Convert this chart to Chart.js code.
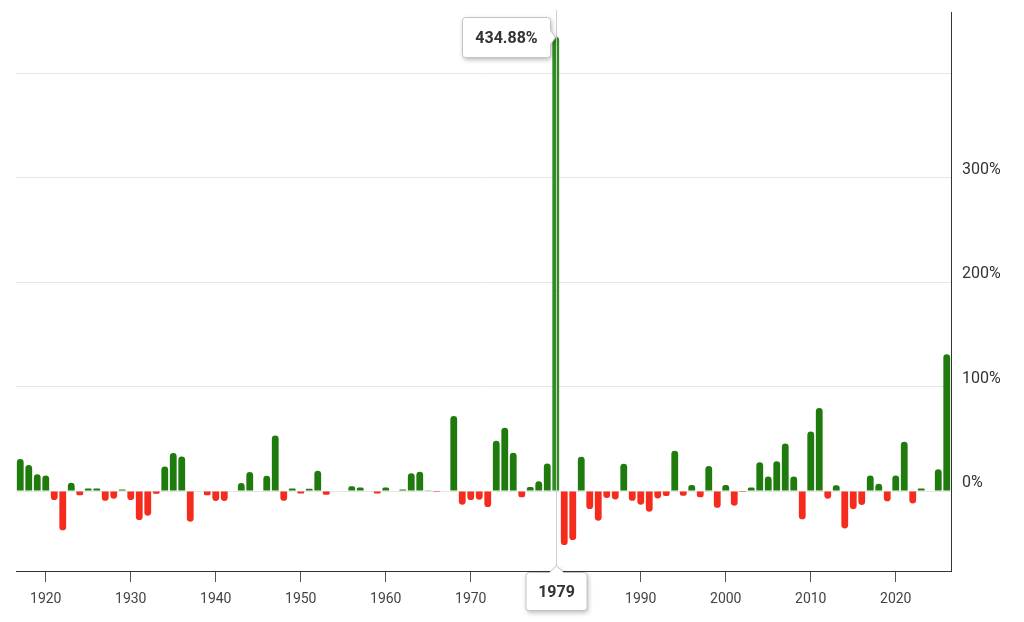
<!DOCTYPE html>
<html>
<head>
<meta charset="utf-8">
<script src="https://cdn.jsdelivr.net/npm/chart.js@4.4.1/dist/chart.umd.min.js"></script>
<style>
  html, body { margin: 0; padding: 0; background: #fff; }
  #wrap { width: 1024px; height: 622px; position: relative; }
</style>
</head>
<body>
<div id="wrap"><canvas id="c" width="1024" height="622"></canvas></div>
<script>
// Annual returns (%)
const years = [
  1916,1917,1918,1919,1920,1921,1922,1923,1924,1925,
  1926,1927,1928,1929,1930,1931,1932,1933,1934,1935,
  1936,1937,1938,1939,1940,1941,1942,1943,1944,1945,
  1946,1947,1948,1949,1950,1951,1952,1953,1954,1955,
  1956,1957,1958,1959,1960,1961,1962,1963,1964,1965,
  1966,1967,1968,1969,1970,1971,1972,1973,1974,1975,
  1976,1977,1978,1979,1980,1981,1982,1983,1984,1985,
  1986,1987,1988,1989,1990,1991,1992,1993,1994,1995,
  1996,1997,1998,1999,2000,2001,2002,2003,2004,2005,
  2006,2007,2008,2009,2010,2011,2012,2013,2014,2015,
  2016,2017,2018,2019,2020,2021,2022,2023,2024,2025
];
const returnsPct = [
  30.6, 24.9, 16.0, 15.0, -8.6, -37.6, 8.0, -4.0, 2.5, 2.5,
  -9.3, -7.3, 1.5, -8.6, -27.8, -23.6, -2.5, 23.6, 36.4, 33.2,
  -29.3, 0, -4.0, -9.5, -9.5, 0, 7.7, 18.2, 0, 14.7,
  53.3, -9.3, 2.5, -2.3, 2.2, 19.4, -3.5, 0, 0, 4.5,
  3.5, 0, -2.3, 3.5, 0, 1.5, 17.0, 18.5, 0.8, -0.8,
  0, 71.8, -13.0, -8.6, -8.3, -15.3, 48.1, 60.6, 36.7, -6.0,
  3.8, 9.3, 26.5, 434.88, -51.7, -46.9, 32.8, -17.2, -28.4, -6.7,
  -8.0, 26.1, -9.3, -13.1, -19.8, -7.0, -4.8, 38.6, -4.5, 5.7,
  -6.0, 23.9, -16.0, 5.7, -14.0, -1.0, 3.5, 27.5, 14.0, 28.6,
  45.5, 14.0, -27.0, 57.0, 79.5, -7.3, 5.5, -35.8, -17.4, -13.3,
  15.0, 7.0, -9.8, 15.0, 47.3, -11.8, 2.5, -0.5, 20.9, 131.0
];
const yTicks = [0, 100, 200, 300, 400];
const yTickLabelsShown = ['0%', '100%', '200%', '300%', ''];
const xTickYears = [1920, 1930, 1940, 1950, 1960, 1970, 1980, 1990, 2000, 2010, 2020];
const highlightYear = 1979;

const GREEN = '#1f7b0e';
const GREEN_HOVER = '#2f8d22';
const RED = '#f42b1d';

// each bar is placed at the end of its year (year + 1)
const points = years.map((y, i) => ({ x: y + 1, y: returnsPct[i] }));
const hiIndex = years.indexOf(highlightYear);

const hoverPlugin = {
  id: 'hoverMarker',
  afterDatasetsDraw(chart) {
    const ctx = chart.ctx;
    const el = chart.getDatasetMeta(0).data[hiIndex];
    const ca = chart.chartArea;
    const x = Math.round(el.x) + 0.5;
    ctx.save();
    // crosshair
    ctx.strokeStyle = '#cfcfcf';
    ctx.lineWidth = 1;
    ctx.beginPath();
    ctx.moveTo(x, ca.top - 2);
    ctx.lineTo(x, ca.bottom);
    ctx.stroke();

    const drawBox = (path) => {
      ctx.save();
      ctx.shadowColor = 'rgba(0,0,0,0.3)';
      ctx.shadowBlur = 5;
      ctx.shadowOffsetX = 1;
      ctx.shadowOffsetY = 2;
      ctx.fillStyle = '#fff';
      path();
      ctx.fill();
      ctx.restore();
      ctx.strokeStyle = '#c4c4c4';
      ctx.lineWidth = 1;
      path();
      ctx.stroke();
    };

    // top value tooltip (caret on the right)
    ctx.font = 'bold 16px Roboto, "Noto Sans", sans-serif';
    const valText = returnsPct[hiIndex].toFixed(2) + '%';
    const tw = ctx.measureText(valText).width;
    const bw = Math.round(tw + 26), bh = 40;
    const cy = Math.round(el.y) + 0.5;
    const bx1 = x - 6, bx0 = bx1 - bw;
    const by0 = cy - bh / 2, by1 = cy + bh / 2;
    const r = 3;
    drawBox(() => {
      ctx.beginPath();
      ctx.moveTo(bx0 + r, by0);
      ctx.lineTo(bx1 - r, by0);
      ctx.quadraticCurveTo(bx1, by0, bx1, by0 + r);
      ctx.lineTo(bx1, cy - 7);
      ctx.lineTo(x - 1, cy);
      ctx.lineTo(bx1, cy + 7);
      ctx.lineTo(bx1, by1 - r);
      ctx.quadraticCurveTo(bx1, by1, bx1 - r, by1);
      ctx.lineTo(bx0 + r, by1);
      ctx.quadraticCurveTo(bx0, by1, bx0, by1 - r);
      ctx.lineTo(bx0, by0 + r);
      ctx.quadraticCurveTo(bx0, by0, bx0 + r, by0);
      ctx.closePath();
    });
    ctx.fillStyle = '#333';
    ctx.textAlign = 'center';
    ctx.textBaseline = 'middle';
    ctx.fillText(valText, (bx0 + bx1) / 2, cy + 1);

    // bottom year tooltip (caret on top)
    const yrText = String(highlightYear);
    const tw2 = ctx.measureText(yrText).width;
    const bw2 = Math.round(tw2 + 24), bh2 = 38;
    const tipY = ca.bottom - 5;
    const ty0 = ca.bottom + 1.5, ty1 = ty0 + bh2;
    const tx0 = x - bw2 / 2, tx1 = x + bw2 / 2;
    drawBox(() => {
      ctx.beginPath();
      ctx.moveTo(tx0 + r, ty0);
      ctx.lineTo(x - 7, ty0);
      ctx.lineTo(x, tipY);
      ctx.lineTo(x + 7, ty0);
      ctx.lineTo(tx1 - r, ty0);
      ctx.quadraticCurveTo(tx1, ty0, tx1, ty0 + r);
      ctx.lineTo(tx1, ty1 - r);
      ctx.quadraticCurveTo(tx1, ty1, tx1 - r, ty1);
      ctx.lineTo(tx0 + r, ty1);
      ctx.quadraticCurveTo(tx0, ty1, tx0, ty1 - r);
      ctx.lineTo(tx0, ty0 + r);
      ctx.quadraticCurveTo(tx0, ty0, tx0 + r, ty0);
      ctx.closePath();
    });
    ctx.fillStyle = '#333';
    ctx.fillText(yrText, x, (ty0 + ty1) / 2 + 1);
    ctx.restore();
  }
};

new Chart(document.getElementById('c'), {
  type: 'bar',
  data: {
    datasets: [{
      data: points,
      backgroundColor: (c) => {
        const v = returnsPct[c.dataIndex];
        if (c.dataIndex === hiIndex) return GREEN_HOVER;
        return v >= 0 ? GREEN : RED;
      },
      borderWidth: 0,
      borderRadius: 4,
      borderSkipped: 'start',
      categoryPercentage: 1.0,
      barPercentage: 0.8
    }]
  },
  options: {
    responsive: false,
    animation: false,
    events: [],
    layout: { padding: { left: 16, top: 12, right: 0, bottom: 0 } },
    plugins: { legend: { display: false }, tooltip: { enabled: false } },
    scales: {
      x: {
        type: 'linear',
        offset: false,
        min: years[0] + 0.5,
        max: years[years.length - 1] + 1.5,
        afterBuildTicks: (s) => { s.ticks = xTickYears.map(v => ({ value: v })); },
        afterFit: (s) => { s.height = 51; s.paddingLeft = 0; s.paddingRight = 0; },
        ticks: {
          callback: (v) => String(v),
          autoSkip: false,
          maxRotation: 0,
          padding: 9,
          color: '#444',
          font: { family: 'Roboto', size: 14 }
        },
        grid: {
          display: true,
          offset: false,
          drawOnChartArea: false,
          drawTicks: true,
          tickLength: 11,
          color: '#555'
        },
        border: { display: true, color: '#333', width: 1 }
      },
      y: {
        position: 'right',
        min: -76.5,
        max: 458.5,
        afterBuildTicks: (s) => { s.ticks = yTicks.map(v => ({ value: v })); },
        afterFit: (s) => { s.width = 73; s.paddingTop = 0; s.paddingBottom = 0; },
        ticks: {
          callback: (v) => yTickLabelsShown[yTicks.indexOf(v)],
          padding: 11,
          labelOffset: -8,
          color: '#333',
          font: { family: 'Roboto', size: 16 }
        },
        grid: { color: '#e6e6e6', drawTicks: false, lineWidth: 1 },
        border: { display: true, color: '#333', width: 1 }
      }
    }
  },
  plugins: [hoverPlugin]
});
</script>
</body>
</html>
